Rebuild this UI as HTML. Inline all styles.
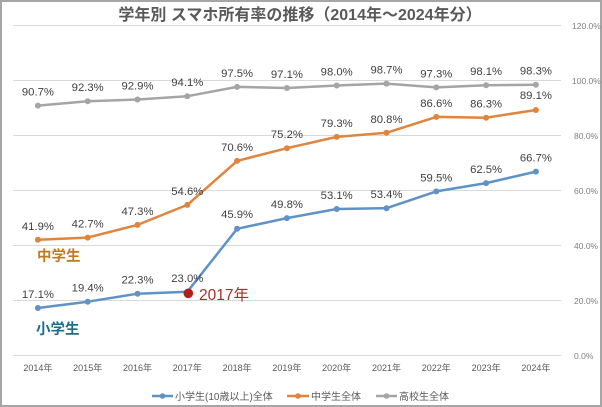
<!DOCTYPE html>
<html><head><meta charset="utf-8"><style>
html,body{margin:0;padding:0;background:#fff;}
svg{display:block;}
</style></head><body>
<svg width="602" height="407" viewBox="0 0 602 407" xmlns="http://www.w3.org/2000/svg">
<rect x="0" y="0" width="602" height="407" fill="#fff"/>
<rect x="1" y="1" width="600" height="405" fill="none" stroke="#a6a6a6" stroke-width="2"/>
<text x="300" y="20" text-anchor="middle" font-family="'Liberation Sans','Noto Sans CJK JP',sans-serif" font-size="16" font-weight="bold" fill="#595959">学年別 スマホ所有率の推移（2014年～2024年分）</text>
<g stroke="#d9d9d9" stroke-width="1">
<line x1="13" y1="25.5" x2="561" y2="25.5"/>
<line x1="13" y1="80.5" x2="561" y2="80.5"/>
<line x1="13" y1="135.5" x2="561" y2="135.5"/>
<line x1="13" y1="190.5" x2="561" y2="190.5"/>
<line x1="13" y1="245.5" x2="561" y2="245.5"/>
<line x1="13" y1="300.5" x2="561" y2="300.5"/>
<line x1="13" y1="355.5" x2="561" y2="355.5"/>
</g>
<g font-family="'Liberation Sans',sans-serif" font-size="8.5" fill="#7f7f7f">
<text x="572" y="29">120.0%</text>
<text x="572" y="84">100.0%</text>
<text x="574" y="139">80.0%</text>
<text x="574" y="194">60.0%</text>
<text x="574" y="249">40.0%</text>
<text x="574" y="304">20.0%</text>
<text x="574" y="359">0.0%</text>
</g>
<g font-family="'Liberation Sans','Noto Sans CJK JP',sans-serif" font-size="9" fill="#595959" text-anchor="middle">
<text x="37.9" y="371">2014年</text>
<text x="87.7" y="371">2015年</text>
<text x="137.5" y="371">2016年</text>
<text x="187.3" y="371">2017年</text>
<text x="237.1" y="371">2018年</text>
<text x="286.9" y="371">2019年</text>
<text x="336.7" y="371">2020年</text>
<text x="386.5" y="371">2021年</text>
<text x="436.3" y="371">2022年</text>
<text x="486.1" y="371">2023年</text>
<text x="535.9" y="371">2024年</text>
</g>
<!-- gray -->
<polyline fill="none" stroke="#a5a5a5" stroke-width="2.5" stroke-linejoin="round" points="37.9,105.6 87.7,101.2 137.5,99.5 187.3,96.2 237.1,86.9 286.9,88.0 336.7,85.5 386.5,83.6 436.3,87.4 486.1,85.2 535.9,84.7"/>
<g fill="#a5a5a5">
<circle cx="37.9" cy="105.6" r="3"/><circle cx="87.7" cy="101.2" r="3"/><circle cx="137.5" cy="99.5" r="3"/><circle cx="187.3" cy="96.2" r="3"/><circle cx="237.1" cy="86.9" r="3"/><circle cx="286.9" cy="88.0" r="3"/><circle cx="336.7" cy="85.5" r="3"/><circle cx="386.5" cy="83.6" r="3"/><circle cx="436.3" cy="87.4" r="3"/><circle cx="486.1" cy="85.2" r="3"/><circle cx="535.9" cy="84.7" r="3"/>
</g>
<!-- orange -->
<polyline fill="none" stroke="#e0843e" stroke-width="2.5" stroke-linejoin="round" points="37.9,239.8 87.7,237.6 137.5,224.9 187.3,204.9 237.1,160.9 286.9,148.2 336.7,136.9 386.5,132.8 436.3,116.9 486.1,117.7 535.9,110.0"/>
<g fill="#e0843e">
<circle cx="37.9" cy="239.8" r="3"/><circle cx="87.7" cy="237.6" r="3"/><circle cx="137.5" cy="224.9" r="3"/><circle cx="187.3" cy="204.9" r="3"/><circle cx="237.1" cy="160.9" r="3"/><circle cx="286.9" cy="148.2" r="3"/><circle cx="336.7" cy="136.9" r="3"/><circle cx="386.5" cy="132.8" r="3"/><circle cx="436.3" cy="116.9" r="3"/><circle cx="486.1" cy="117.7" r="3"/><circle cx="535.9" cy="110.0" r="3"/>
</g>
<!-- blue -->
<polyline fill="none" stroke="#5f93c6" stroke-width="2.5" stroke-linejoin="round" points="37.9,308.0 87.7,301.7 137.5,293.7 187.3,291.8 237.1,228.8 286.9,218.1 336.7,209.0 386.5,208.2 436.3,191.4 486.1,183.1 535.9,171.6"/>
<g fill="#5f93c6">
<circle cx="37.9" cy="308.0" r="3"/><circle cx="87.7" cy="301.7" r="3"/><circle cx="137.5" cy="293.7" r="3"/><circle cx="237.1" cy="228.8" r="3"/><circle cx="286.9" cy="218.1" r="3"/><circle cx="336.7" cy="209.0" r="3"/><circle cx="386.5" cy="208.2" r="3"/><circle cx="436.3" cy="191.4" r="3"/><circle cx="486.1" cy="183.1" r="3"/><circle cx="535.9" cy="171.6" r="3"/>
</g>
<circle cx="188.3" cy="293.3" r="4.8" fill="#b0201c"/>
<!-- data labels -->
<g font-family="'Liberation Sans',sans-serif" font-size="11.3" fill="#404040" text-anchor="middle">
<text x="37.9" y="95.6">90.7%</text>
<text x="87.7" y="91.2">92.3%</text>
<text x="137.5" y="89.5">92.9%</text>
<text x="187.3" y="86.2">94.1%</text>
<text x="237.1" y="76.9">97.5%</text>
<text x="286.9" y="78.0">97.1%</text>
<text x="336.7" y="75.5">98.0%</text>
<text x="386.5" y="73.6">98.7%</text>
<text x="436.3" y="77.4">97.3%</text>
<text x="486.1" y="75.2">98.1%</text>
<text x="535.9" y="74.7">98.3%</text>

<text x="37.9" y="229.8">41.9%</text>
<text x="87.7" y="227.6">42.7%</text>
<text x="137.5" y="214.9">47.3%</text>
<text x="187.3" y="194.9">54.6%</text>
<text x="237.1" y="150.9">70.6%</text>
<text x="286.9" y="138.2">75.2%</text>
<text x="336.7" y="126.9">79.3%</text>
<text x="386.5" y="122.8">80.8%</text>
<text x="436.3" y="106.9">86.6%</text>
<text x="486.1" y="107.7">86.3%</text>
<text x="535.9" y="99.0">89.1%</text>

<text x="37.9" y="298.0">17.1%</text>
<text x="87.7" y="291.7">19.4%</text>
<text x="137.5" y="283.7">22.3%</text>
<text x="187.3" y="281.8">23.0%</text>
<text x="237.1" y="217.8">45.9%</text>
<text x="286.9" y="208.1">49.8%</text>
<text x="336.7" y="199.0">53.1%</text>
<text x="386.5" y="198.2">53.4%</text>
<text x="436.3" y="181.4">59.5%</text>
<text x="486.1" y="173.1">62.5%</text>
<text x="535.9" y="161.6">66.7%</text>
</g>
<!-- annotations -->
<text x="37" y="261" font-family="'Liberation Sans','Noto Sans CJK JP',sans-serif" font-size="14.5" font-weight="bold" fill="#c07b22">中学生</text>
<text x="36" y="334" font-family="'Liberation Sans','Noto Sans CJK JP',sans-serif" font-size="14.5" font-weight="bold" fill="#1b6e8e">小学生</text>
<text x="199" y="300" font-family="'Liberation Sans','Noto Sans CJK JP',sans-serif" font-size="15.5" fill="#a3302a">2017年</text>
<!-- legend -->
<g font-family="'Liberation Sans','Noto Sans CJK JP',sans-serif" font-size="10" fill="#595959">
<line x1="152" y1="396" x2="173" y2="396" stroke="#5f93c6" stroke-width="2.5"/>
<circle cx="162.5" cy="396" r="2.8" fill="#5f93c6"/>
<text x="175" y="400">小学生(10歳以上)全体</text>
<line x1="287" y1="396" x2="309" y2="396" stroke="#e0843e" stroke-width="2.5"/>
<circle cx="298" cy="396" r="2.8" fill="#e0843e"/>
<text x="311" y="400">中学生全体</text>
<line x1="376" y1="396" x2="397" y2="396" stroke="#a5a5a5" stroke-width="2.5"/>
<circle cx="386.5" cy="396" r="2.8" fill="#a5a5a5"/>
<text x="399" y="400">高校生全体</text>
</g>
</svg>
</body></html>
